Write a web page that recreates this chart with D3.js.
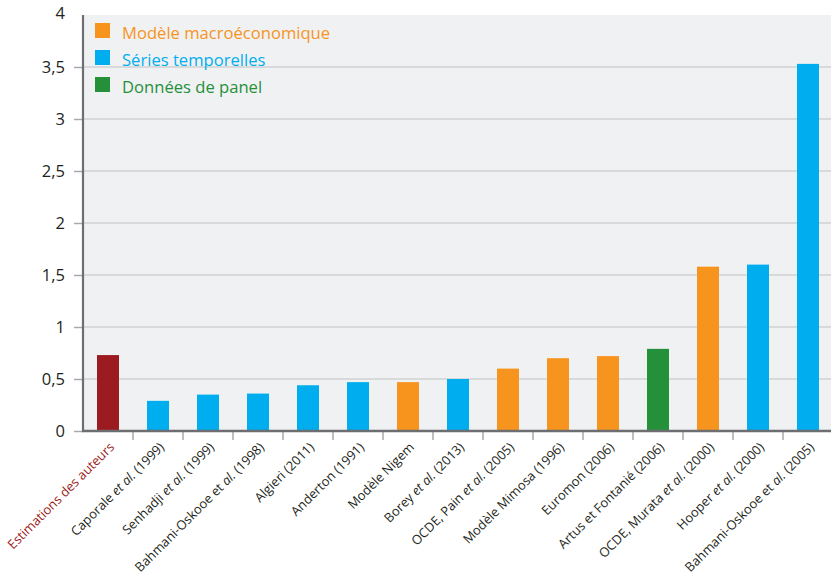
<!DOCTYPE html>
<html>
<head>
<meta charset="utf-8">
<script src="https://cdn.jsdelivr.net/npm/d3@7"></script>
<style>
  body { margin: 0; background: #fff; }
  svg { display: block; font-family: "Open Sans", sans-serif; }
</style>
</head>
<body>
<svg id="chart"></svg>
<script>
// categories, in drawing order; each label is a list of [text, italic] pieces
var labels = [
    [["Estimations des auteurs", false]],
    [["Caporale ", false], ["et al.", true], [" (1999)", false]],
    [["Senhadji ", false], ["et al.", true], [" (1999)", false]],
    [["Bahmani-Oskooe et ", false], ["al.", true], [" (1998)", false]],
    [["Algieri (2011)", false]],
    [["Anderton (1991)", false]],
    [["Modèle Nigem", false]],
    [["Borey ", false], ["et al.", true], [" (2013)", false]],
    [["OCDE, Pain ", false], ["et al.", true], [" (2005)", false]],
    [["Modèle Mimosa (1996)", false]],
    [["Euromon (2006)", false]],
    [["Artus et Fontanié (2006)", false]],
    [["OCDE, Murata ", false], ["et al.", true], [" (2000)", false]],
    [["Hooper ", false], ["et al.", true], [" (2000)", false]],
    [["Bahmani-Oskooe et ", false], ["al.", true], [" (2005)", false]]
];
var values = [0.73, 0.29, 0.35, 0.36, 0.44, 0.47, 0.47, 0.50, 0.60, 0.70, 0.72, 0.79, 1.58, 1.60, 3.53];
// method of each estimate
var methods = ["auteurs", "series", "series", "series", "series", "series", "macro",
    "series", "macro", "macro", "macro", "panel", "macro", "series", "series"];

var legendKeys = ["macro", "series", "panel"];
var legendNames = ["Modèle macroéconomique", "Séries temporelles", "Données de panel"];

var yTicks = [0, 0.5, 1, 1.5, 2, 2.5, 3, 3.5, 4];

var width = 831,
    height = 580;
var margin = { top: 15, right: -2, bottom: 149, left: 83 };

var svg = d3.select("#chart")
    .attr("width", width)
    .attr("height", height);

var colors = d3.scaleOrdinal()
    .domain(["auteurs", "macro", "series", "panel"])
    .range(["#9b1b20", "#f7941d", "#00aeef", "#25903a"]);

var x = d3.scaleBand()
    .domain(d3.range(values.length))
    .range([margin.left, width - margin.right])
    .paddingInner(0.56)
    .paddingOuter(0.28);

var y = d3.scaleLinear()
    .domain([0, 4])
    .range([height - margin.bottom, margin.top]);

// plot background
svg.append("rect")
    .attr("x", margin.left)
    .attr("y", y(4))
    .attr("width", width - margin.left)
    .attr("height", y(0) - y(4))
    .attr("fill", "#f0f1f3");

// grid lines
svg.append("g")
    .selectAll("line")
    .data(yTicks.filter(d => d > 0 && d < 4))
    .enter()
    .append("line")
    .attr("x1", margin.left)
    .attr("x2", width)
    .attr("y1", d => y(d))
    .attr("y2", d => y(d))
    .attr("stroke", "#cfd0d2")
    .attr("stroke-width", 1.3);

// bars
svg.append("g")
    .selectAll("rect")
    .data(values)
    .enter()
    .append("rect")
    .attr("x", (d, i) => x(i) + (x.bandwidth() - 22) / 2)
    .attr("width", 22)
    .attr("y", d => y(d))
    .attr("height", d => y(0) - y(d))
    .attr("fill", (d, i) => colors(methods[i]));

// y axis
var yAxis = d3.axisLeft(y)
    .tickValues(yTicks)
    .tickSize(9)
    .tickPadding(9)
    .tickFormat(d => d3.format("~g")(d).replace(".", ","));

var gy = svg.append("g")
    .attr("transform", `translate(${margin.left},0)`)
    .call(yAxis);
gy.select(".domain").remove();
gy.selectAll(".tick line")
    .attr("stroke", "#a7a9ac")
    .attr("stroke-width", 1.5)
    .filter(d => d === 4).remove();
gy.selectAll(".tick text")
    .attr("font-size", 16.5)
    .attr("font-family", "Open Sans, sans-serif")
    .attr("fill", "#231f20");
gy.selectAll(".tick").filter(d => d === 4).select("text").attr("dy", "0.2em");

// x axis: ticks on the band boundaries
var step = x.step();
svg.append("g")
    .selectAll("line")
    .data(d3.range(1, values.length))
    .enter()
    .append("line")
    .attr("x1", i => margin.left + i * step)
    .attr("x2", i => margin.left + i * step)
    .attr("y1", y(0))
    .attr("y2", y(0) + 9)
    .attr("stroke", "#a7a9ac")
    .attr("stroke-width", 1.5);

// axis lines
svg.append("line")
    .attr("x1", margin.left)
    .attr("x2", margin.left)
    .attr("y1", y(4))
    .attr("y2", y(0) + 1)
    .attr("stroke", "#6d6e71")
    .attr("stroke-width", 2.2);
svg.append("line")
    .attr("x1", margin.left - 1)
    .attr("x2", width)
    .attr("y1", y(0))
    .attr("y2", y(0))
    .attr("stroke", "#6d6e71")
    .attr("stroke-width", 2.5);

// category labels, rotated
var lab = svg.append("g")
    .selectAll("text")
    .data(labels)
    .enter()
    .append("text")
    .attr("transform", (d, i) => `translate(${x(i) + x.bandwidth() / 2 + 7},${y(0) + 17}) rotate(-45)`)
    .attr("text-anchor", "end")
    .attr("font-size", 12.9)
    .attr("fill", (d, i) => i === 0 ? "#9b1b20" : "#231f20");
lab.selectAll("tspan")
    .data(d => d)
    .enter()
    .append("tspan")
    .attr("font-style", d => d[1] ? "italic" : null)
    .text(d => d[0]);

// legend
var legend = svg.append("g")
    .selectAll("g")
    .data(legendKeys)
    .enter()
    .append("g")
    .attr("transform", (d, i) => `translate(95,${23 + i * 27})`);
legend.append("rect")
    .attr("width", 15)
    .attr("height", 15)
    .attr("fill", d => colors(d));
legend.append("text")
    .attr("x", 27)
    .attr("y", 15.5)
    .attr("font-size", 16.6)
    .attr("fill", d => colors(d))
    .text((d, i) => legendNames[i]);
</script>
</body>
</html>
